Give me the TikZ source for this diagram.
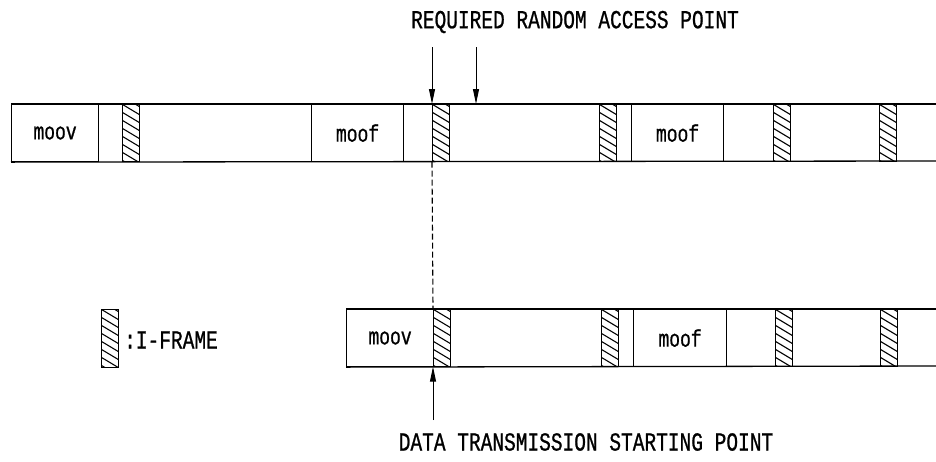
\documentclass[tikz,border=0pt]{standalone}
\usepackage{fontspec}
\newfontfamily\figfont[FakeStretch=0.75,FakeBold=0.8]{Liberation Mono}
\usetikzlibrary{arrows.meta}
\tikzset{
  barline/.style={line width=1.3pt},
  segbox/.style={draw, line width=1.1pt, anchor=north west, inner sep=0pt,
    minimum height=57pt, font=\figfont\fontsize{24}{24}\selectfont},
  iframe/.style={draw, line width=0.7pt, anchor=north west, inner sep=0pt,
    minimum width=17pt, minimum height=57pt,
    path picture={
      \foreach \k in {-3,...,8}{
        \draw[line width=1.1pt] ([yshift=-\k*8pt]path picture bounding box.north west) -- ++(20pt,-12pt);
      }}},
  ptr/.style={line width=1pt, -{Triangle[length=15pt,width=6pt]}},
  lbl/.style={font=\figfont\fontsize{26}{26}\selectfont, inner sep=0pt}
}
\begin{document}
\begin{tikzpicture}[x=1pt,y=-1pt]
\useasboundingbox (0,0) rectangle (936,461);
% top stream
\node[segbox, minimum width=87pt] (moovA) at (11,104) {moov};
\node[iframe] (iA1) at (122,104) {};
\node[segbox, minimum width=92pt] (moofA1) at (311,104) {moof};
\node[iframe] (iA2) at (432,104) {};
\node[iframe] (iA3) at (599,104) {};
\node[segbox, minimum width=92pt] (moofA2) at (631,104) {moof};
\node[iframe] (iA4) at (773,104) {};
\node[iframe] (iA5) at (879,104) {};
\coordinate (topEndA) at (936,104);
\coordinate (botEndA) at (936,161);
\draw[barline] (moovA.north west) -- (topEndA);
\draw[barline] (moovA.south west) -- (botEndA);
% bottom stream
\node[segbox, minimum width=87pt] (moovB) at (346,309) {moov};
\node[iframe] (iB1) at (433,309) {};
\node[iframe] (iB2) at (601,309) {};
\node[segbox, minimum width=93pt] (moofB) at (633,309) {moof};
\node[iframe] (iB3) at (775,309) {};
\node[iframe] (iB4) at (880,309) {};
\coordinate (topEndB) at (936,309);
\coordinate (botEndB) at (936,366);
\draw[barline] (moovB.north west) -- (topEndB);
\draw[barline] (moovB.south west) -- (botEndB);
% dashed link
\draw[line width=1.1pt, dash pattern=on 6pt off 3pt] (iA2.south west) -- (iB1.north west);
% required random access point
\node[lbl] (rap) at (575,22) {REQUIRED RANDOM ACCESS POINT};
\coordinate (rapT1) at (432,47);
\coordinate (rapT2) at (476,47);
\coordinate (rapH2) at (476,104);
\draw[ptr] (rapT1) -- (iA2.north west);
\draw[ptr] (rapT2) -- (rapH2);
% data transmission starting point
\node[lbl] (dtsp) at (586,442) {DATA TRANSMISSION STARTING POINT};
\coordinate (dtspT) at (433,420);
\draw[ptr] (dtspT) -- (iB1.south west);
% legend
\node[iframe, minimum height=58pt] (legI) at (101,309) {};
\node[lbl, anchor=west] (legT) at (124,340) {:I-FRAME};
\end{tikzpicture}
\end{document}
